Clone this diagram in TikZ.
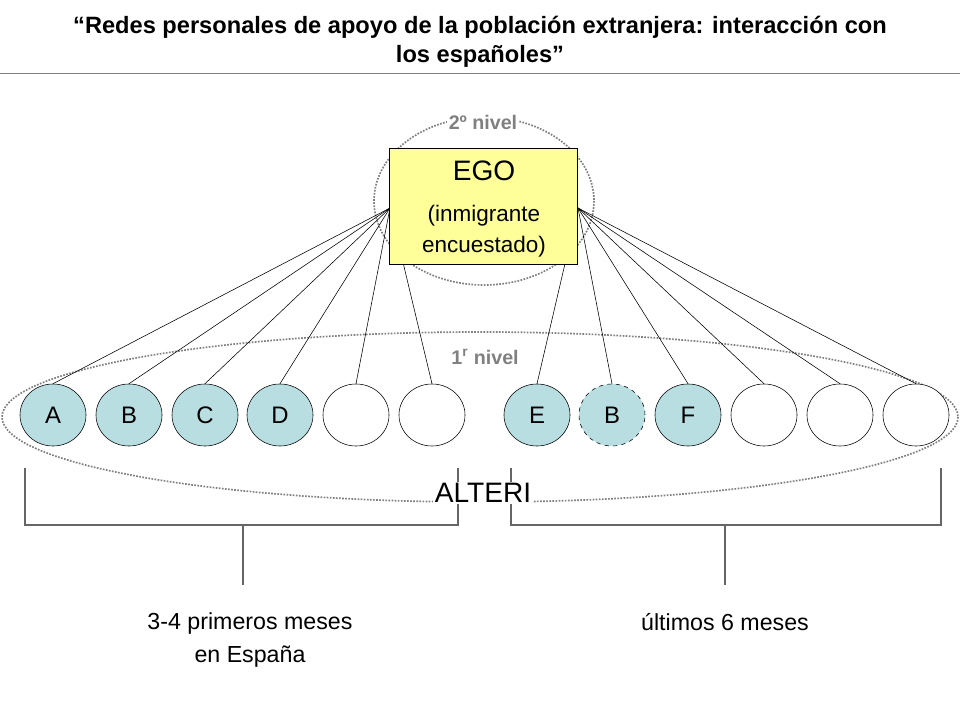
\documentclass[tikz,border=0pt]{standalone}
\usepackage{fontspec}
\setmainfont{Liberation Sans}
\usetikzlibrary{shapes.geometric}
\definecolor{celeste}{RGB}{184,222,225}
\definecolor{amarillo}{RGB}{255,255,153}

\begin{document}
\begin{tikzpicture}[x=0.025cm,y=-0.025cm]
\tikzset{alter/.style={draw,ellipse,minimum width=1.65cm,minimum height=1.55cm,inner sep=0pt,font=\fontsize{17}{20}\selectfont},
 lleno/.style={alter,fill=celeste},
 vacio/.style={alter,fill=white},
 nivel/.style={draw=gray,densely dotted,line width=1.2pt},
 rotulo/.style={text=gray,font=\bfseries\fontsize{14}{16}\selectfont},
 llave/.style={gray!80!black,thick}}
\useasboundingbox (0,0) rectangle (960,720);
% titulo
\node[align=center,font=\bfseries\fontsize{16.8}{21}\selectfont] (titulo) at (480,42)
 {``Redes personales de apoyo de la población extranjera: interacción con\\los españoles''};
\draw[gray] (0,73) -- (960,73);
% niveles
\draw[nivel] (484,201) ellipse (110 and 84);
\draw[nivel] (480,417) ellipse (478 and 85);
\node[rotulo,fill=white,inner sep=1pt] (n2) at (483,122) {2º nivel};
\node[rotulo] (n1) at (485,357) {1\textsuperscript{r} nivel};
% alteri
\node[lleno] (a1) at (53,415) {A};
\node[lleno] (a2) at (129,415) {B};
\node[lleno] (a3) at (205,415) {C};
\node[lleno] (a4) at (280,415) {D};
\node[vacio] (a5) at (356,415) {};
\node[vacio] (a6) at (432,415) {};
\node[lleno] (a7) at (537,415) {E};
\node[lleno,dashed] (a8) at (612,415) {B};
\node[lleno] (a9) at (688,415) {F};
\node[vacio] (a10) at (764,415) {};
\node[vacio] (a11) at (840,415) {};
\node[vacio] (a12) at (916,415) {};
\coordinate (ei) at (390,208);
\coordinate (ed) at (578,208);
\foreach \i in {1,...,6} \draw (ei) -- (a\i.north);
\foreach \i in {7,...,12} \draw (ed) -- (a\i.north);
% ego
\node[draw,fill=amarillo,minimum width=4.7cm,minimum height=2.9cm,anchor=north west] (ego) at (389,148) {};
\node[font=\fontsize{20}{24}\selectfont] (egot) at (484,171) {EGO};
\node[align=center,font=\fontsize{16}{22}\selectfont] (egos) at (484,231) {(inmigrante\\encuestado)};
% llaves
\draw[llave] (25,468) -- (25,525) -- (458,525) -- (458,468);
\draw[llave] (511,468) -- (511,525) -- (941,525) -- (941,468);
\node[font=\fontsize{20}{24}\selectfont,fill=white,inner sep=1pt] (alteri) at (483,493) {ALTERI};
\coordinate (li) at (243,525);
\coordinate (ld) at (725,525);
\node[align=center,font=\fontsize{16.5}{23}\selectfont,anchor=north] (ti) at (250,608) {3-4 primeros meses\\en España};
\node[font=\fontsize{16.5}{23}\selectfont,anchor=north] (td) at (725,608) {últimos 6 meses};
\draw[llave] (li) -- (243,585);
\draw[llave] (ld) -- (725,585);
\end{tikzpicture}
\end{document}
